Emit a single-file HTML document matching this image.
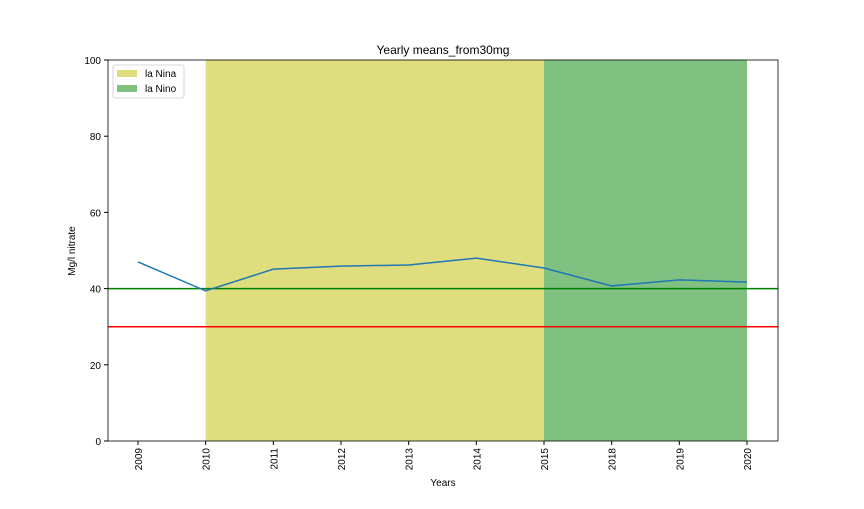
<!DOCTYPE html>
<html><head><meta charset="utf-8"><style>
body{margin:0;background:#fff;}
svg text{font-family:"Liberation Sans","DejaVu Sans",sans-serif;}
</style></head><body>
<svg id="chart" width="864" height="504" xmlns="http://www.w3.org/2000/svg"></svg>
<script>
const categories = ["2009","2010","2011","2012","2013","2014","2015","2018","2019","2020"];
const values = [47.0, 39.4, 45.1, 45.9, 46.2, 48.0, 45.4, 40.7, 42.3, 41.7];
const yTicks = [0, 20, 40, 60, 80, 100];
const ninaSpan = [1, 6];
const ninoSpan = [6, 9];
const hLines = [40, 30];

const NS = "http://www.w3.org/2000/svg";
const svg = document.getElementById("chart");
const L = 108, R = 778, T = 60, B = 441;
const x0 = 138, step = (747 - 138) / 9;
const xs = i => x0 + i * step;
const ys = v => B - (v / 100) * (B - T);
function mk(tag, attrs, parent) {
  const e = document.createElementNS(NS, tag);
  for (const k in attrs) e.setAttribute(k, attrs[k]);
  (parent || svg).appendChild(e);
  return e;
}
let e;
e = mk("rect", {x: xs(ninaSpan[0]), y: T, width: xs(ninaSpan[1]) - xs(ninaSpan[0]), height: B - T, fill: "#dede7e"});


e = mk("rect", {x: xs(ninoSpan[0]), y: T, width: xs(ninoSpan[1]) - xs(ninoSpan[0]), height: B - T, fill: "#80c080"});


e = mk("line", {x1: L, x2: R, y1: ys(hLines[0]), y2: ys(hLines[0]), stroke: "#008000", "stroke-width": 1.5});


e = mk("line", {x1: L, x2: R, y1: ys(hLines[1]), y2: ys(hLines[1]), stroke: "#ff0000", "stroke-width": 1.5});


e = mk("polyline", {points: values.map((v, i) => xs(i) + "," + ys(v)).join(" "), fill: "none", stroke: "#1f77b4", "stroke-width": 1.5});


e = mk("rect", {x: L, y: T, width: R - L, height: B - T, fill: "none", stroke: "#000", "stroke-width": 0.8});


yTicks.forEach(v => {
  mk("line", {x1: L - 4, x2: L, y1: ys(v), y2: ys(v), stroke: "#000"});
  e = mk("text", {x: L - 7, y: ys(v) + 4, "text-anchor": "end", "font-size": 10});
  e.textContent = v;
  
  
});
categories.forEach((c, i) => {
  mk("line", {x1: xs(i), x2: xs(i), y1: B, y2: B + 4, stroke: "#000"});
  e = mk("text", {x: 0, y: 0, "text-anchor": "end", "font-size": 10, transform: `translate(${xs(i) + 4},${B + 7}) rotate(-90)`});
  e.textContent = c;
  
  
});
e = mk("text", {x: 443, y: 54, "text-anchor": "middle", "font-size": 12});
e.textContent = "Yearly means_from30mg";


e = mk("text", {x: 443, y: 486, "text-anchor": "middle", "font-size": 10});
e.textContent = "Years";


e = mk("text", {x: 0, y: 0, "text-anchor": "middle", "font-size": 10, transform: "translate(75,251) rotate(-90)"});
e.textContent = "Mg/l nitrate";


const lg = mk("g", {});


mk("rect", {x: 113, y: 65, width: 71, height: 33, rx: 2, fill: "#fff", stroke: "#ccc", "stroke-width": 0.8}, lg);
mk("rect", {x: 117, y: 70, width: 20, height: 7, fill: "#dede7e"}, lg);
mk("rect", {x: 117, y: 85, width: 20, height: 7, fill: "#80c080"}, lg);
e = mk("text", {x: 145, y: 77, "font-size": 10}, lg); e.textContent = "la Nina";


e = mk("text", {x: 145, y: 92, "font-size": 10}, lg); e.textContent = "la Nino";


</script>
</body></html>
